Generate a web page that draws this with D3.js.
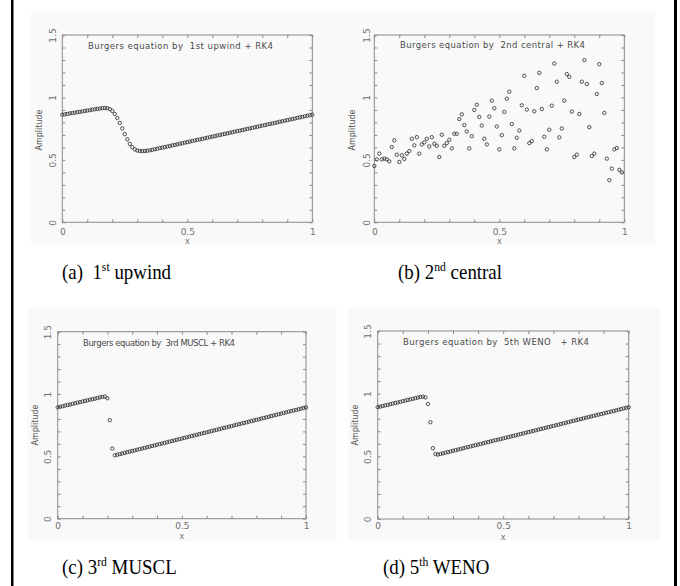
<!DOCTYPE html>
<html>
<head>
<meta charset="utf-8">
<script src="https://cdn.jsdelivr.net/npm/d3@7"></script>
<style>
  html, body { margin: 0; padding: 0; background: #ffffff; }
  svg { display: block; }
</style>
</head>
<body>
<svg id="fig" width="680" height="586"></svg>
<script>
// Grid nodes x_i = i/100 on the periodic domain [0, 1]
const xGrid = d3.range(0, 101).map(i => i / 100);

// Solution u(x) at the output time for each scheme
const upwind = [
  0.862, 0.865, 0.868, 0.872, 0.875, 0.878, 0.882, 0.885, 0.888, 0.892,
  0.895, 0.898, 0.902, 0.905, 0.908, 0.911, 0.914, 0.915, 0.914, 0.907,
  0.892, 0.868, 0.835, 0.796, 0.752, 0.706, 0.664, 0.628, 0.601, 0.584,
  0.575, 0.571, 0.570, 0.571, 0.573, 0.576, 0.580, 0.585, 0.589, 0.594,
  0.598, 0.602, 0.607, 0.611, 0.616, 0.620, 0.624, 0.629, 0.633, 0.638,
  0.642, 0.646, 0.651, 0.655, 0.660, 0.664, 0.668, 0.673, 0.677, 0.682,
  0.686, 0.690, 0.695, 0.699, 0.704, 0.708, 0.712, 0.717, 0.721, 0.726,
  0.730, 0.734, 0.739, 0.743, 0.748, 0.752, 0.756, 0.761, 0.765, 0.770,
  0.774, 0.778, 0.783, 0.787, 0.792, 0.796, 0.800, 0.805, 0.809, 0.814,
  0.818, 0.822, 0.827, 0.831, 0.836, 0.840, 0.844, 0.849, 0.853, 0.858,
  0.862
];

const central = [
  0.451, 0.504, 0.550, 0.504, 0.510, 0.504, 0.488, 0.603, 0.656, 0.542,
  0.483, 0.536, 0.507, 0.550, 0.571, 0.669, 0.616, 0.682, 0.550, 0.624,
  0.640, 0.669, 0.608, 0.682, 0.629, 0.613, 0.523, 0.701, 0.613, 0.634,
  0.661, 0.592, 0.709, 0.709, 0.826, 0.865, 0.778, 0.727, 0.592, 0.690,
  0.900, 0.942, 0.844, 0.775, 0.669, 0.624, 0.847, 0.974, 0.913, 0.767,
  0.584, 0.698, 0.884, 0.990, 1.046, 0.786, 0.592, 0.677, 0.735, 0.937,
  1.173, 0.903, 0.634, 0.650, 0.889, 1.075, 1.197, 0.908, 0.685, 0.584,
  0.741, 0.934, 1.272, 1.126, 0.680, 0.751, 0.974, 1.187, 1.165, 0.887,
  0.523, 0.542, 0.868, 1.126, 1.298, 1.107, 0.762, 0.531, 0.550, 1.027,
  1.266, 1.115, 0.876, 0.510, 0.337, 0.430, 0.584, 0.595, 0.420, 0.400
];

const muscl = [
  0.893, 0.898, 0.902, 0.907, 0.912, 0.916, 0.921, 0.926, 0.931, 0.935,
  0.940, 0.945, 0.949, 0.954, 0.959, 0.963, 0.968, 0.973, 0.977, 0.980,
  0.966, 0.790, 0.563, 0.508, 0.513, 0.518, 0.523, 0.528, 0.533, 0.538,
  0.543, 0.548, 0.553, 0.558, 0.563, 0.568, 0.573, 0.578, 0.583, 0.588,
  0.593, 0.598, 0.603, 0.608, 0.613, 0.618, 0.623, 0.628, 0.633, 0.638,
  0.643, 0.648, 0.653, 0.658, 0.663, 0.668, 0.673, 0.678, 0.683, 0.688,
  0.693, 0.698, 0.703, 0.708, 0.713, 0.718, 0.723, 0.728, 0.733, 0.738,
  0.743, 0.748, 0.753, 0.758, 0.763, 0.768, 0.773, 0.778, 0.783, 0.788,
  0.793, 0.798, 0.803, 0.808, 0.813, 0.818, 0.823, 0.828, 0.833, 0.838,
  0.843, 0.848, 0.853, 0.858, 0.863, 0.868, 0.873, 0.878, 0.883, 0.888,
  0.893
];

const weno = [
  0.892, 0.897, 0.902, 0.906, 0.911, 0.916, 0.921, 0.926, 0.930, 0.935,
  0.940, 0.945, 0.950, 0.954, 0.959, 0.964, 0.969, 0.974, 0.976, 0.970,
  0.918, 0.772, 0.565, 0.518, 0.514, 0.519, 0.524, 0.529, 0.534, 0.539,
  0.544, 0.549, 0.554, 0.559, 0.564, 0.569, 0.574, 0.579, 0.584, 0.589,
  0.594, 0.599, 0.604, 0.609, 0.614, 0.619, 0.624, 0.629, 0.634, 0.638,
  0.643, 0.648, 0.653, 0.658, 0.663, 0.668, 0.673, 0.678, 0.683, 0.688,
  0.693, 0.698, 0.703, 0.708, 0.713, 0.718, 0.723, 0.728, 0.733, 0.738,
  0.743, 0.748, 0.753, 0.758, 0.763, 0.768, 0.773, 0.778, 0.783, 0.788,
  0.793, 0.798, 0.803, 0.808, 0.813, 0.818, 0.823, 0.828, 0.833, 0.837,
  0.842, 0.847, 0.852, 0.857, 0.862, 0.867, 0.872, 0.877, 0.882, 0.887,
  0.892
];

// Axis ticks
const xTicks = d3.range(0, 11).map(i => i / 10);
const yTicks = d3.range(0, 16).map(i => i / 10);
const xTickLabels = [0, 0.5, 1];
const yTickLabels = [0, 0.5, 1, 1.5];

// Panel titles and captions
const titles = [
  "Burgers equation by  1st upwind + RK4",
  "Burgers equation by  2nd central + RK4",
  "Burgers equation by  3rd MUSCL + RK4",
  "Burgers equation by  5th WENO   + RK4"
];
const captions = [
  { tag: "(a)  ", num: "1", sup: "st", name: " upwind" },
  { tag: "(b) ",  num: "2", sup: "nd", name: " central" },
  { tag: "(c) ",  num: "3", sup: "rd", name: " MUSCL" },
  { tag: "(d) ",  num: "5", sup: "th", name: " WENO" }
];
const seriesList = [upwind, central, muscl, weno];

// Panel geometry
const panels = [
  { bg: [31, 12, 304, 233], frame: [62.3, 312.3, 35, 222.3], yLab: 9,  xLabDy: 8,  ampX: 39,  ampY: 130, xTitleY: 244,
    title: [88, 49, 185], cap: [62, 279] },
  { bg: [335, 12, 320, 233], frame: [374.3, 624.3, 35, 222.3], yLab: 7, xLabDy: 8, ampX: 352, ampY: 130, xTitleY: 244,
    title: [400, 48, 185], cap: [398, 279] },
  { bg: [27.5, 307.5, 309, 233.5], frame: [57.7, 306, 331.7, 518.7], yLab: 10, xLabDy: 5, ampX: 35, ampY: 425, xTitleY: 539,
    title: [83, 345.5, 152], cap: [62, 574] },
  { bg: [348, 307.5, 312, 233.5], frame: [377.7, 628.7, 331, 519], yLab: 10, xLabDy: 5, ampX: 355, ampY: 425, xTitleY: 540,
    title: [403, 344.5, 186], cap: [383, 574] }
];

const svg = d3.select("#fig");
const axisColor = "#8a8a8a";
const labelColor = "#6f6f6f";
const smallFont = "DejaVu Sans, sans-serif";

// Outer side rules of the figure box
svg.append("rect").attr("x", 11).attr("y", 0).attr("width", 2.5).attr("height", 586).attr("fill", "#000");
svg.append("rect").attr("x", 674).attr("y", 0).attr("width", 3).attr("height", 586).attr("fill", "#000");

panels.forEach((p, k) => {
  const g = svg.append("g");
  const [fx0, fx1, fy0, fy1] = p.frame;

  g.append("rect")
    .attr("x", p.bg[0]).attr("y", p.bg[1])
    .attr("width", p.bg[2]).attr("height", p.bg[3])
    .attr("fill", "#f8f9f8");

  const x = d3.scaleLinear().domain([0, 1]).range([fx0, fx1]);
  const y = d3.scaleLinear().domain([0, 1.5]).range([fy1, fy0]);

  const fmt = v => (xTickLabels.some(t => Math.abs(t - v) < 1e-9) ? d3.format("~g")(v) : "");
  const fmtY = v => (yTickLabels.some(t => Math.abs(t - v) < 1e-9) ? d3.format("~g")(v) : "");

  // Bottom axis with labels, inward ticks
  const gb = g.append("g").attr("transform", `translate(0,${fy1})`)
    .call(d3.axisBottom(x).tickValues(xTicks).tickFormat(fmt).tickSize(-3).tickSizeOuter(0).tickPadding(p.xLabDy));
  // Top axis, ticks only
  const gt = g.append("g").attr("transform", `translate(0,${fy0})`)
    .call(d3.axisTop(x).tickValues(xTicks).tickFormat("").tickSize(-3).tickSizeOuter(0));
  // Left axis with rotated labels
  const gl = g.append("g").attr("transform", `translate(${fx0},0)`)
    .call(d3.axisLeft(y).tickValues(yTicks).tickFormat(fmtY).tickSize(-3).tickSizeOuter(0));
  // Right axis, ticks only
  const gr = g.append("g").attr("transform", `translate(${fx1},0)`)
    .call(d3.axisRight(y).tickValues(yTicks).tickFormat("").tickSize(-3).tickSizeOuter(0));

  [gb, gt, gl, gr].forEach(a => {
    a.select(".domain").remove();
    a.selectAll(".tick line").attr("stroke", axisColor).attr("stroke-width", 1);
    a.selectAll(".tick text").attr("fill", labelColor).attr("font-family", smallFont).attr("font-size", 9);
  });
  gb.selectAll(".tick text").attr("dy", "0.55em");
  gl.selectAll(".tick text")
    .attr("x", null).attr("dy", null)
    .attr("text-anchor", "middle")
    .attr("transform", `translate(${-p.yLab},0) rotate(-90) translate(0,3)`);

  // Plot frame
  g.append("rect")
    .attr("x", fx0).attr("y", fy0)
    .attr("width", fx1 - fx0).attr("height", fy1 - fy0)
    .attr("fill", "none").attr("stroke", axisColor).attr("stroke-width", 1);

  // Axis titles
  g.append("text")
    .attr("x", (fx0 + fx1) / 2).attr("y", p.xTitleY)
    .attr("text-anchor", "middle")
    .attr("font-family", smallFont).attr("font-size", 8).attr("fill", labelColor)
    .text("x");
  g.append("text")
    .attr("transform", `translate(${p.ampX},${p.ampY}) rotate(-90)`)
    .attr("text-anchor", "middle").attr("dy", "0.35em")
    .attr("font-family", smallFont).attr("font-size", 8).attr("fill", "#555")
    .text("Amplitude");

  // Title inside the frame
  g.append("text")
    .attr("x", p.title[0]).attr("y", p.title[1])
    .attr("textLength", p.title[2]).attr("lengthAdjust", "spacing")
    .attr("font-family", smallFont).attr("font-size", 8.5).attr("fill", "#4a4a4a")
    .attr("xml:space", "preserve").style("white-space", "pre")
    .text(titles[k]);

  // Solution points
  const vals = seriesList[k];
  g.append("g").selectAll("circle")
    .data(vals)
    .join("circle")
    .attr("cx", (d, i) => x(xGrid[i]))
    .attr("cy", d => y(d))
    .attr("r", 1.7)
    .attr("fill", "none")
    .attr("stroke", "#2a2a2a")
    .attr("stroke-width", 0.8);

  // Caption below the panel (serif, slightly condensed)
  const c = captions[k];
  const t = svg.append("text")
    .attr("transform", `translate(${p.cap[0]},${p.cap[1]}) scale(0.9,1)`)
    .attr("font-family", "Liberation Serif, Times New Roman, serif")
    .attr("font-size", 21).attr("fill", "#000")
    .style("white-space", "pre");
  t.append("tspan").text(c.tag + c.num);
  t.append("tspan").attr("font-size", 13).attr("dy", -8).text(c.sup);
  t.append("tspan").attr("dy", 8).text(c.name);
});
</script>
</body>
</html>
